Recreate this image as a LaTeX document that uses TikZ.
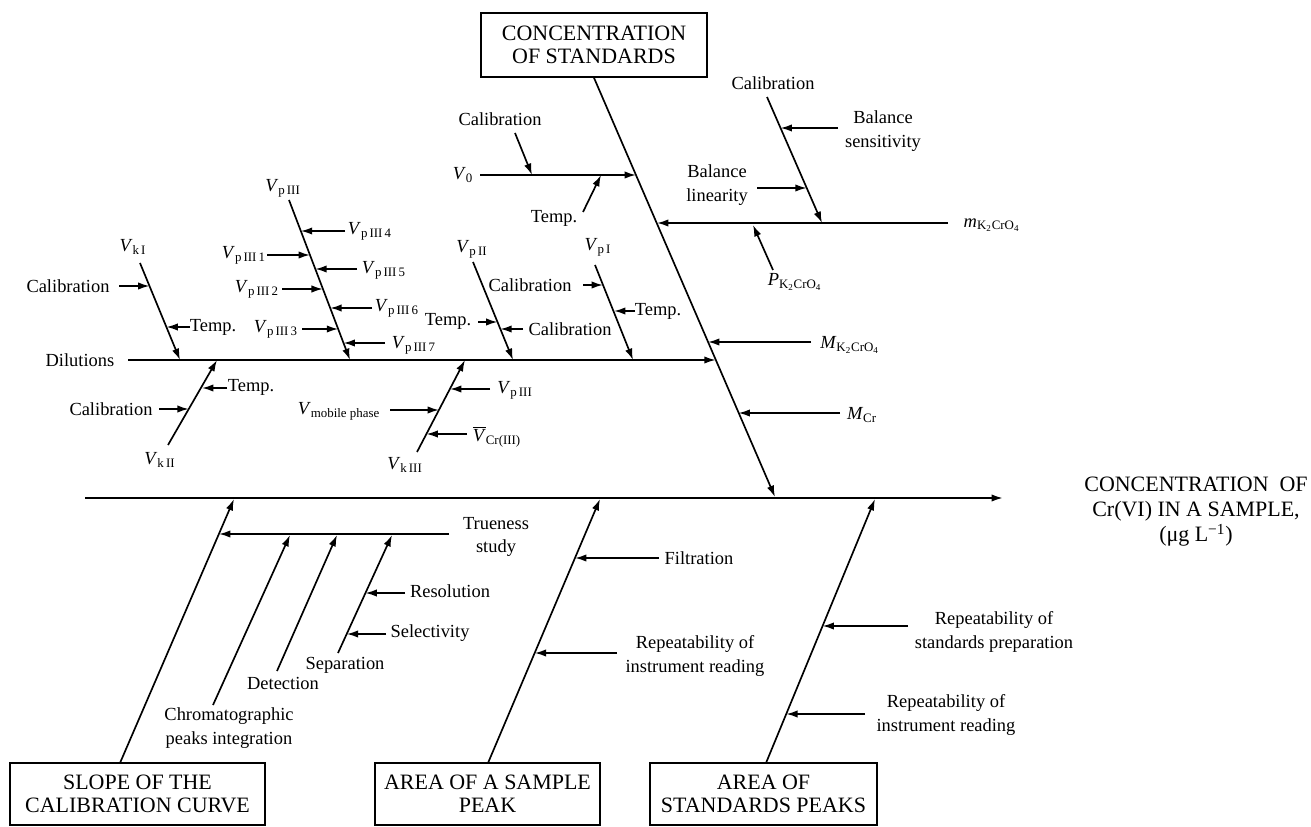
\documentclass[tikz,border=0pt]{standalone}
\usepackage{fontspec}
\setmainfont{Liberation Serif}
\usetikzlibrary{positioning,
        arrows.meta}
\newcommand{\varsub}[2]{\textit{#1}\textsubscript{#2}}
\newcommand{\kcro}{K\textsubscript{2}CrO\textsubscript{4}}

\begin{document}
\begin{tikzpicture}[x=0.02cm,y=-0.02cm,line width=0.95pt,
        arr/.style={-{Latex[length=6.5pt,width=4.2pt]}},
        bigbox/.style={draw,align=center,inner sep=2pt,font=\fontsize{12.5}{13}\selectfont},
        lbl/.style={align=center,inner sep=0pt,font=\fontsize{10.5}{13.5}\selectfont}]
            \useasboundingbox (0,0) rectangle (1311,827);

            % boxes and effect
            \node [bigbox,minimum width=4.52cm,minimum height=1.28cm] (cstd) at (594,45) {CONCENTRATION\\OF STANDARDS};
            \node [bigbox,minimum width=5.1cm,minimum height=1.24cm] (slope) at (137.5,794) {SLOPE OF THE\\CALIBRATION CURVE};
            \node [bigbox,minimum width=4.5cm,minimum height=1.24cm] (asample) at (487.5,794) {AREA OF A SAMPLE\\PEAK};
            \node [bigbox,minimum width=4.54cm,minimum height=1.24cm] (astd) at (763.5,794) {AREA OF\\STANDARDS PEAKS};
            \node [align=center,inner sep=0pt,font=\fontsize{12.5}{14.2}\selectfont] (res) at (1196,512) {CONCENTRATION\ \ OF\\Cr(VI) IN A SAMPLE,\\(μg L\textsuperscript{−1})};

            % labels, upper half
            \node [lbl] (cal0) at (500,119) {Calibration};
            \node [lbl] (v0) at (463,175) {\varsub{V}{0}};
            \node [lbl] (temp0) at (554,218) {Temp.};
            \node [lbl] (cal1) at (773,83) {Calibration};
            \node [lbl] (bsens) at (883,131) {Balance\\sensitivity};
            \node [lbl] (blin) at (717,185) {Balance\\linearity};
            \node [lbl] (mk) at (992,225) {\varsub{m}{\kcro}};
            \node [lbl] (pk) at (795,282) {\varsub{P}{\kcro}};
            \node [lbl] (Mk) at (850,345) {\varsub{M}{\kcro}};
            \node [lbl] (Mcr) at (862,415) {\varsub{M}{Cr}};
            \node [lbl] (dil) at (80,360) {Dilutions};
            \node [lbl] (vk1) at (133,247) {\varsub{V}{k\,I}};
            \node [lbl] (cal2) at (68,286) {Calibration};
            \node [lbl] (temp2) at (213,327) {Temp.};
            \node [lbl] (vp3) at (283,188) {\varsub{V}{p\,III}};
            \node [lbl] (vp31) at (244,255) {\varsub{V}{p\,III\,1}};
            \node [lbl] (vp32) at (257,289) {\varsub{V}{p\,III\,2}};
            \node [lbl] (vp33) at (276,329) {\varsub{V}{p\,III\,3}};
            \node [lbl] (vp34) at (370,231) {\varsub{V}{p\,III\,4}};
            \node [lbl] (vp35) at (384,270) {\varsub{V}{p\,III\,5}};
            \node [lbl] (vp36) at (397,308) {\varsub{V}{p\,III\,6}};
            \node [lbl] (vp37) at (414,345) {\varsub{V}{p\,III\,7}};
            \node [lbl] (vk2) at (160,460) {\varsub{V}{k\,II}};
            \node [lbl] (temp3) at (251,387) {Temp.};
            \node [lbl] (cal3) at (111,409) {Calibration};
            \node [lbl] (vk3) at (405,465) {\varsub{V}{k\,III}};
            \node [lbl] (vp3b) at (515,390) {\varsub{V}{p\,III}};
            \node [lbl] (vmob) at (339,411) {\varsub{V}{mobile phase}};
            \node [lbl] (vcr) at (497,437) {$\overline{\mbox{\textit{V}}}$\textsubscript{Cr(III)}};
            \node [lbl] (vp2) at (472,249) {\varsub{V}{p\,II}};
            \node [lbl] (temp4) at (448,321) {Temp.};
            \node [lbl] (cal4) at (570,329) {Calibration};
            \node [lbl] (vp1) at (598,247) {\varsub{V}{p\,I}};
            \node [lbl] (cal5) at (530,285) {Calibration};
            \node [lbl] (temp5) at (658,311) {Temp.};

            % labels, lower half
            \node [lbl] (true) at (496,537) {Trueness\\study};
            \node [lbl] (chrom) at (229,728) {Chromatographic\\peaks integration};
            \node [lbl] (det) at (283,683) {Detection};
            \node [lbl] (sep) at (345,665) {Separation};
            \node [lbl] (resol) at (450,591) {Resolution};
            \node [lbl] (sel) at (430,633) {Selectivity};
            \node [lbl] (filt) at (699,558) {Filtration};
            \node [lbl] (rep1) at (695,656) {Repeatability of\\instrument reading};
            \node [lbl] (rep2) at (994,632) {Repeatability of\\standards preparation};
            \node [lbl] (rep3) at (946,715) {Repeatability of\\instrument reading};

            % spine
            \coordinate (tail) at (85,498);
            \coordinate (head) at (1003,498);
            \draw [arr,line width=1.1pt] (tail) -- (head);

            % concentration of standards
            \coordinate (c0) at (775,497);
            \draw [arr] (cstd.south) -- (c0);
            \coordinate (v0a) at (480,175);
            \coordinate (v0b) at (636,175);
            \draw [arr] (v0a) -- (v0b);
            \draw [arr] (515,133) -- (532,175);
            \draw [arr] (583,212) -- (601,175);
            \coordinate (ma) at (948,223);
            \coordinate (mb) at (657,223);
            \draw [arr] (ma) -- (mb);
            \coordinate (ca) at (767,97);
            \coordinate (cb) at (822,223);
            \draw [arr] (ca) -- (cb);
            \draw [arr] (838,128) -- (780.5,128);
            \draw [arr] (757,188) -- (806.7,188);
            \draw [arr] (773,270) -- (753,225);
            \draw [arr] (811,342) -- (708,342);
            \draw [arr] (840,413) -- (738.5,413);

            % dilutions
            \coordinate (da) at (128,360);
            \coordinate (db) at (715.7,360);
            \draw [arr] (da) -- (db);
            \draw [arr] (140,263) -- (180,360);
            \draw [arr] (119,286) -- (149.5,286);
            \draw [arr] (190,327) -- (166.4,327);
            \draw [arr] (289,200) -- (350,360);
            \draw [arr] (345,231) -- (300.8,231);
            \draw [arr] (267,255) -- (310,255);
            \draw [arr] (357,269) -- (315.3,269);
            \draw [arr] (282,289) -- (322.9,289);
            \draw [arr] (372,308) -- (330.2,308);
            \draw [arr] (302,329) -- (338.2,329);
            \draw [arr] (385,343) -- (343.5,343);
            \draw [arr] (168,445) -- (217,360);
            \draw [arr] (227,388) -- (202,388);
            \draw [arr] (159,409) -- (188.8,409);
            \draw [arr] (417,452) -- (465,360);
            \draw [arr] (490,389) -- (450,389);
            \draw [arr] (390,410) -- (439,410);
            \draw [arr] (467,434) -- (426.4,434);
            \draw [arr] (473,262) -- (513,360);
            \draw [arr] (478,322) -- (497.5,322);
            \draw [arr] (523,329) -- (500.3,329);
            \draw [arr] (595,265) -- (633,360);
            \draw [arr] (583,285) -- (603,285);
            \draw [arr] (635,311) -- (614,311);

            % slope of the calibration curve
            \draw [arr] (120,763) -- (234,499);
            \draw [arr] (449,534) -- (219,534);
            \draw [arr] (213,705) -- (290,535);
            \draw [arr] (277,671) -- (337,535);
            \draw [arr] (338,653) -- (392,535);
            \draw [arr] (405,593) -- (365.4,593);
            \draw [arr] (386,634) -- (346.7,634);

            % area of a sample peak
            \draw [arr] (488,763) -- (600,499);
            \draw [arr] (659,558) -- (575,558);
            \draw [arr] (617,653) -- (534.7,653);

            % area of standards peaks
            \draw [arr] (766,763) -- (875,499);
            \draw [arr] (908,626) -- (822.5,626);
            \draw [arr] (865,714) -- (786.2,714);
        \end{tikzpicture}
\end{document}
